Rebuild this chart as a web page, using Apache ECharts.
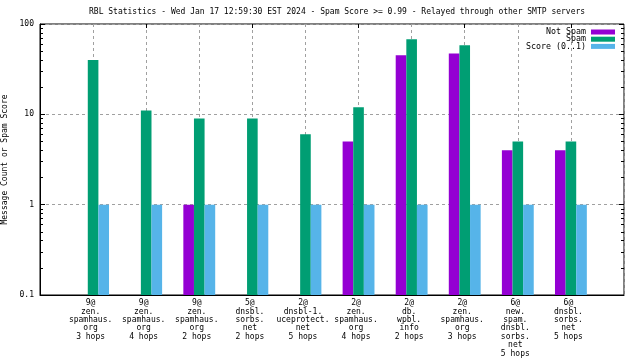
<!DOCTYPE html>
<html><head><meta charset="utf-8">
<script src="https://cdn.jsdelivr.net/npm/echarts@6/dist/echarts.min.js"></script>
<style>html,body{margin:0;padding:0;background:#fff}#c{width:640px;height:360px}</style>
</head><body><div id="c"></div>
<script>
const titleText = 'RBL Statistics - Wed Jan 17 12:59:30 EST 2024 - Spam Score >= 0.99 - Relayed through other SMTP servers';
const yAxisName = 'Message Count or Spam Score';
const categories = [
  '9@\nzen.\nspamhaus.\norg\n3 hops',
  '9@\nzen.\nspamhaus.\norg\n4 hops',
  '9@\nzen.\nspamhaus.\norg\n2 hops',
  '5@\ndnsbl.\nsorbs.\nnet\n2 hops',
  '2@\ndnsbl-1.\nuceprotect.\nnet\n5 hops',
  '2@\nzen.\nspamhaus.\norg\n4 hops',
  '2@\ndb.\nwpbl.\ninfo\n2 hops',
  '2@\nzen.\nspamhaus.\norg\n3 hops',
  '6@\nnew.\nspam.\ndnsbl.\nsorbs.\nnet\n5 hops',
  '6@\ndnsbl.\nsorbs.\nnet\n5 hops'
];
const seriesNames = ['Not Spam', 'Spam', 'Score (0..1)'];
const notSpam = [null, null, 1, null, null, 5, 45, 47, 4, 4];
const spam = [40, 11, 9, 9, 6, 12, 68, 58, 5, 5];
const score = [1, 1, 1, 1, 1, 1, 1, 1, 1, 1];
const colors = ['#9400d3', '#009e73', '#56b4e9'];
const yMin = 0.1, yMax = 100;
const minorTickValues = [0.2,0.3,0.4,0.5,0.6,0.7,0.8,0.9,2,3,4,5,6,7,8,9,20,30,40,50,60,70,80,90];

const FONT = 'DejaVu Sans Mono';
const axisCats = [''].concat(categories, ['']);
const GRID = {left: 40, right: 16, top: 24, bottom: 65, outerBoundsMode: 'none', containLabel: false};

function toData(arr) {
  const out = [];
  arr.forEach(function (v, i) { if (v != null && v > 0) out.push([i + 1, v]); });
  return out;
}
function makeRenderer(offset) {
  return function (params, api) {
    const idx = api.value(0), v = api.value(1);
    const top = api.coord([idx, v]);
    const base = api.coord([idx, yMin]);
    const slot = api.size([1, 1], [idx, 1])[0];
    const w = slot * 0.2;
    return {
      type: 'rect',
      shape: {x: top[0] + (offset - 0.5) * w, y: top[1], width: w, height: base[1] - top[1]},
      style: api.style()
    };
  };
}
const dataSets = [notSpam, spam, score];
const series = dataSets.map(function (arr, k) {
  return {
    name: seriesNames[k], type: 'custom', xAxisIndex: 0, yAxisIndex: 0,
    renderItem: makeRenderer(k - 1),
    itemStyle: {color: colors[k]},
    encode: {x: 0, y: 1},
    data: toData(arr)
  };
});

const dash = {color: '#a0a0a0', type: [3, 3], width: 1};
const chart = echarts.init(document.getElementById('c'));
chart.setOption({
  animation: false,
  backgroundColor: '#fff',
  title: {
    text: titleText, left: 89, top: 8, padding: 0,
    textStyle: {fontFamily: FONT, fontSize: 8, fontWeight: 'normal', color: '#000'}
  },
  legend: {
    data: seriesNames, orient: 'vertical', align: 'right', right: 25, top: 28, padding: 0,
    icon: 'rect', itemWidth: 24, itemHeight: 5, itemGap: -0.8,
    textStyle: {fontFamily: FONT, fontSize: 8.3, color: '#000'}
  },
  grid: [
    Object.assign({show: true, borderColor: '#000', borderWidth: 1, backgroundColor: 'transparent'}, GRID),
    Object.assign({show: false}, GRID)
  ],
  xAxis: [
    {
      type: 'category', gridIndex: 0, position: 'bottom', data: axisCats, boundaryGap: false,
      axisLine: {show: true, lineStyle: {color: '#000'}},
      axisTick: {show: false},
      axisLabel: {interval: 0, hideOverlap: false, margin: 4, color: '#000', fontFamily: FONT, fontSize: 8, lineHeight: 8.4, align: 'center', padding: [0, 5, 0, 0]},
      splitLine: {show: true, lineStyle: dash}
    },
    {
      type: 'category', gridIndex: 0, position: 'top', data: axisCats, boundaryGap: false,
      axisLine: {show: false}, axisLabel: {show: false}, splitLine: {show: false},
      axisTick: {show: true, inside: true, length: 4, lineStyle: {color: '#000'}}
    },
    {
      type: 'value', gridIndex: 1, min: 0, max: 1, show: false
    }
  ],
  yAxis: [
    {
      type: 'log', gridIndex: 0, position: 'left', min: yMin, max: yMax, logBase: 10, interval: 1,
      name: yAxisName, nameLocation: 'middle', nameRotate: 90, nameGap: 28,
      nameTextStyle: {fontFamily: FONT, fontSize: 8, color: '#000'},
      axisLine: {show: true, lineStyle: {color: '#000'}},
      axisTick: {show: true, inside: true, length: 5, lineStyle: {color: '#000'}},
      axisLabel: {color: '#000', fontFamily: FONT, fontSize: 8, margin: 6,
        formatter: function (v) { return String(v); }},
      splitLine: {show: true, lineStyle: dash}
    },
    {
      type: 'log', gridIndex: 0, position: 'right', min: yMin, max: yMax, logBase: 10, interval: 1,
      axisLine: {show: false}, axisLabel: {show: false}, splitLine: {show: false},
      axisTick: {show: true, inside: true, length: 5, lineStyle: {color: '#000'}}
    },
    {
      type: 'value', gridIndex: 1, position: 'left', min: -1, max: 2,
      axisLine: {show: false}, axisLabel: {show: false}, splitLine: {show: false},
      axisTick: {show: true, inside: true, length: 3, lineStyle: {color: '#000'},
        customValues: minorTickValues.map(function (v) { return Math.log10(v); })}
    },
    {
      type: 'value', gridIndex: 1, position: 'right', min: -1, max: 2,
      axisLine: {show: false}, axisLabel: {show: false}, splitLine: {show: false},
      axisTick: {show: true, inside: true, length: 3, lineStyle: {color: '#000'},
        customValues: minorTickValues.map(function (v) { return Math.log10(v); })}
    }
  ],
  series: series
});
</script>
</body></html>
